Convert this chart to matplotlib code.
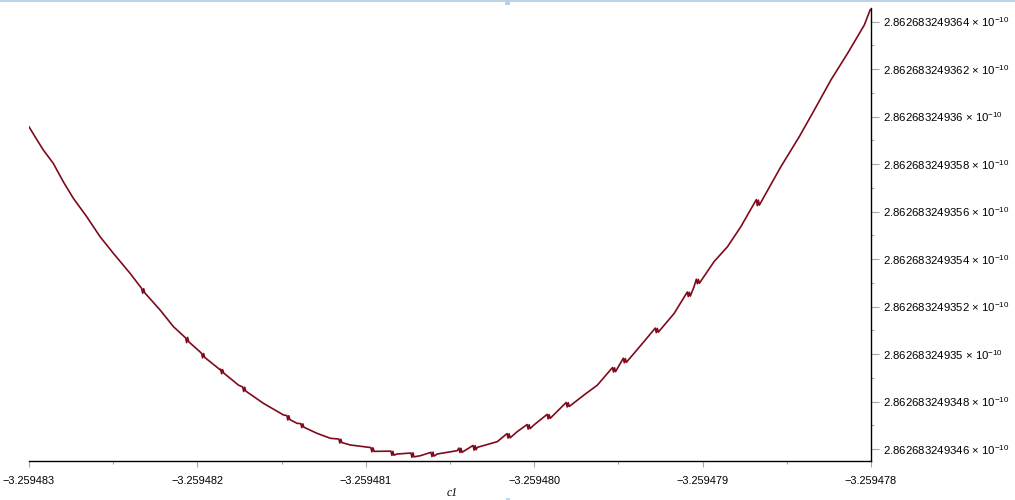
import numpy as np
import matplotlib
matplotlib.use("Agg")
import matplotlib.pyplot as plt
from matplotlib.patches import Rectangle

# ---- data (c1 and function value) ----
c1_main = [
    -3.259483000, -3.259482964, -3.259482915, -3.259482856, -3.259482796,
    -3.259482737, -3.259482657, -3.259482578, -3.259482499, -3.259482400,
    -3.259482221, -3.259482142, -3.259481864, -3.259481756, -3.259481607,
    -3.259481488, -3.259481408, -3.259481290, -3.259481210, -3.259481092,
    -3.259480953, -3.259480814, -3.259480675, -3.259480576, -3.259480457,
    -3.259480338, -3.259480219, -3.259480101, -3.259480002, -3.259479705,
    -3.259479625, -3.259479407, -3.259479169, -3.259479051, -3.259478932,
    -3.259478852, -3.259478773, -3.259478535, -3.259478426, -3.259478337,
    -3.259478238, -3.259478139, -3.259478040, -3.259478004,
]
f_main = [
    2.86268324935957e-10, 2.86268324935915e-10, 2.86268324935859e-10, 2.86268324935803e-10,
    2.86268324935725e-10, 2.86268324935656e-10, 2.86268324935578e-10, 2.86268324935494e-10,
    2.86268324935424e-10, 2.86268324935340e-10, 2.86268324935185e-10, 2.86268324935115e-10,
    2.86268324934933e-10, 2.86268324934869e-10, 2.86268324934792e-10, 2.86268324934743e-10,
    2.86268324934708e-10, 2.86268324934666e-10, 2.86268324934645e-10, 2.86268324934617e-10,
    2.86268324934596e-10, 2.86268324934579e-10, 2.86268324934572e-10, 2.86268324934579e-10,
    2.86268324934593e-10, 2.86268324934607e-10, 2.86268324934631e-10, 2.86268324934673e-10,
    2.86268324934701e-10, 2.86268324934827e-10, 2.86268324934869e-10, 2.86268324935003e-10,
    2.86268324935171e-10, 2.86268324935283e-10, 2.86268324935389e-10, 2.86268324935452e-10,
    2.86268324935536e-10, 2.86268324935789e-10, 2.86268324935915e-10, 2.86268324936027e-10,
    2.86268324936154e-10, 2.86268324936266e-10, 2.86268324936385e-10, 2.86268324936451e-10,
]

# numerical-noise wiggles visible along the curve
c1_noise = [
    -3.259482331, -3.259482325, -3.259482319, -3.259482313,
    -3.259482070, -3.259482064, -3.259482058, -3.259482052,
    -3.259481975, -3.259481969, -3.259481963, -3.259481957,
    -3.259481862, -3.259481856, -3.259481850, -3.259481844,
    -3.259481731, -3.259481725, -3.259481719, -3.259481713,
    -3.259481469, -3.259481463, -3.259481457, -3.259481451,
    -3.259481386, -3.259481380, -3.259481374, -3.259481368,
    -3.259481160, -3.259481154, -3.259481148, -3.259481142,
    -3.259480970, -3.259480964, -3.259480958, -3.259480952,
    -3.259480851, -3.259480845, -3.259480839, -3.259480833,
    -3.259480732, -3.259480726, -3.259480720, -3.259480714,
    -3.259480613, -3.259480607, -3.259480601, -3.259480595,
    -3.259480447, -3.259480441, -3.259480435, -3.259480429,
    -3.259480363, -3.259480357, -3.259480351, -3.259480345,
    -3.259480161, -3.259480155, -3.259480149, -3.259480143,
    -3.259480042, -3.259480036, -3.259480030, -3.259480024,
    -3.259479923, -3.259479917, -3.259479911, -3.259479905,
    -3.259479810, -3.259479804, -3.259479798, -3.259479792,
    -3.259479535, -3.259479529, -3.259479523, -3.259479517,
    -3.259479471, -3.259479465, -3.259479459, -3.259479453,
    -3.259479281, -3.259479275, -3.259479269, -3.259479263,
    -3.259479091, -3.259479085, -3.259479079, -3.259479073,
    -3.259479037, -3.259479031, -3.259479025, -3.259479019,
    -3.259478681, -3.259478675, -3.259478669, -3.259478663,
]
f_noise = [
    2.86268324935276e-10, 2.86268324935256e-10, 2.86268324935275e-10, 2.86268324935258e-10,
    2.86268324935068e-10, 2.86268324935048e-10, 2.86268324935070e-10, 2.86268324935052e-10,
    2.86268324935003e-10, 2.86268324934984e-10, 2.86268324935002e-10, 2.86268324934986e-10,
    2.86268324934936e-10, 2.86268324934917e-10, 2.86268324934934e-10, 2.86268324934920e-10,
    2.86268324934861e-10, 2.86268324934842e-10, 2.86268324934860e-10, 2.86268324934844e-10,
    2.86268324934741e-10, 2.86268324934722e-10, 2.86268324934740e-10, 2.86268324934724e-10,
    2.86268324934707e-10, 2.86268324934690e-10, 2.86268324934706e-10, 2.86268324934692e-10,
    2.86268324934642e-10, 2.86268324934625e-10, 2.86268324934641e-10, 2.86268324934627e-10,
    2.86268324934606e-10, 2.86268324934588e-10, 2.86268324934605e-10, 2.86268324934590e-10,
    2.86268324934591e-10, 2.86268324934573e-10, 2.86268324934590e-10, 2.86268324934574e-10,
    2.86268324934583e-10, 2.86268324934565e-10, 2.86268324934584e-10, 2.86268324934567e-10,
    2.86268324934586e-10, 2.86268324934568e-10, 2.86268324934587e-10, 2.86268324934570e-10,
    2.86268324934604e-10, 2.86268324934585e-10, 2.86268324934603e-10, 2.86268324934586e-10,
    2.86268324934615e-10, 2.86268324934595e-10, 2.86268324934614e-10, 2.86268324934597e-10,
    2.86268324934665e-10, 2.86268324934646e-10, 2.86268324934664e-10, 2.86268324934647e-10,
    2.86268324934703e-10, 2.86268324934684e-10, 2.86268324934702e-10, 2.86268324934686e-10,
    2.86268324934746e-10, 2.86268324934727e-10, 2.86268324934745e-10, 2.86268324934729e-10,
    2.86268324934796e-10, 2.86268324934777e-10, 2.86268324934795e-10, 2.86268324934779e-10,
    2.86268324934943e-10, 2.86268324934924e-10, 2.86268324934942e-10, 2.86268324934926e-10,
    2.86268324934982e-10, 2.86268324934963e-10, 2.86268324934981e-10, 2.86268324934965e-10,
    2.86268324935109e-10, 2.86268324935090e-10, 2.86268324935108e-10, 2.86268324935092e-10,
    2.86268324935261e-10, 2.86268324935242e-10, 2.86268324935260e-10, 2.86268324935244e-10,
    2.86268324935315e-10, 2.86268324935296e-10, 2.86268324935314e-10, 2.86268324935298e-10,
    2.86268324935650e-10, 2.86268324935625e-10, 2.86268324935648e-10, 2.86268324935627e-10,
]

x_ticks = [-3.259483, -3.259482, -3.259481, -3.259480, -3.259479, -3.259478]
x_tick_labels = ["\u22123.259483", "\u22123.259482", "\u22123.259481",
                 "\u22123.259480", "\u22123.259479", "\u22123.259478"]
y_ticks = [2.862683249346e-10, 2.862683249348e-10, 2.862683249350e-10,
           2.862683249352e-10, 2.862683249354e-10, 2.862683249356e-10,
           2.862683249358e-10, 2.862683249360e-10, 2.862683249362e-10,
           2.862683249364e-10]
y_tick_mantissas = ["2.862683249346", "2.862683249348", "2.86268324935",
                    "2.862683249352", "2.862683249354", "2.862683249356",
                    "2.862683249358", "2.86268324936", "2.862683249362",
                    "2.862683249364"]
x_label = "c1"

# ---- figure ----
plt.rcParams["mathtext.fontset"] = "custom"
plt.rcParams["mathtext.rm"] = "Liberation Sans"
plt.rcParams["mathtext.it"] = "Liberation Sans:italic"
plt.rcParams["font.family"] = ["Liberation Sans", "DejaVu Sans"]

W, H = 1015, 500
fig = plt.figure(figsize=(W / 100, H / 100), dpi=100)
fig.patch.set_facecolor("white")
ax = fig.add_axes([29 / W, (H - 461) / H, 842 / W, 453 / H])

c1_all = np.concatenate([c1_main, c1_noise])
f_all = np.concatenate([f_main, f_noise])
order = np.argsort(c1_all)
ax.plot(c1_all[order], f_all[order], color="#7E0A1C", lw=1.2,
        solid_joinstyle="round", solid_capstyle="round")

ax.set_xlim(x_ticks[0], x_ticks[-1])
ax.set_ylim(2.862683249345495e-10, 2.86268324936457e-10)

for s in ("top", "left"):
    ax.spines[s].set_visible(False)
for s in ("bottom", "right"):
    ax.spines[s].set_color("black")
    ax.spines[s].set_linewidth(1.0)

ax.set_xticks(x_ticks, labels=x_tick_labels)
xt = np.array(x_ticks)
ax.set_xticks((xt[:-1] + xt[1:]) / 2, minor=True)
yt = np.array(y_ticks)
ax.set_yticks(y_ticks, labels=[m + r" $\times$ 10$^{-10}$" for m in y_tick_mantissas])
ax.set_yticks((yt[:-1] + yt[1:]) / 2, minor=True)

ax.yaxis.tick_right()
ax.tick_params(axis="both", which="both", color="#A8A8A8", width=0.8,
               labelcolor="black")
ax.tick_params(axis="x", which="major", length=4.5, pad=6, direction="out", labelsize=7.9)
ax.tick_params(axis="x", which="minor", length=2.5, direction="out")
ax.tick_params(axis="y", which="major", length=5.5, pad=3, direction="out", labelsize=8.2)
ax.tick_params(axis="y", which="minor", length=2.5, direction="out")

fig.text(452 / W, 1 - 493 / H, x_label, family="Liberation Serif",
         style="italic", fontsize=8.5, ha="center", va="center")

# window frame artefacts
fig.add_artist(Rectangle((0, 1 - 1.5 / H), 1, 1.5 / H, transform=fig.transFigure,
                         facecolor="#BCD3EA", edgecolor="none"))
fig.add_artist(Rectangle((505 / W, 1 - 5 / H), 5 / W, 5 / H, transform=fig.transFigure,
                         facecolor="#B8CFE6", edgecolor="none"))
fig.add_artist(Rectangle((506 / W, 0), 4 / W, 2.5 / H, transform=fig.transFigure,
                         facecolor="#C4D7EA", edgecolor="none"))

fig.savefig("out.png", dpi=100)
